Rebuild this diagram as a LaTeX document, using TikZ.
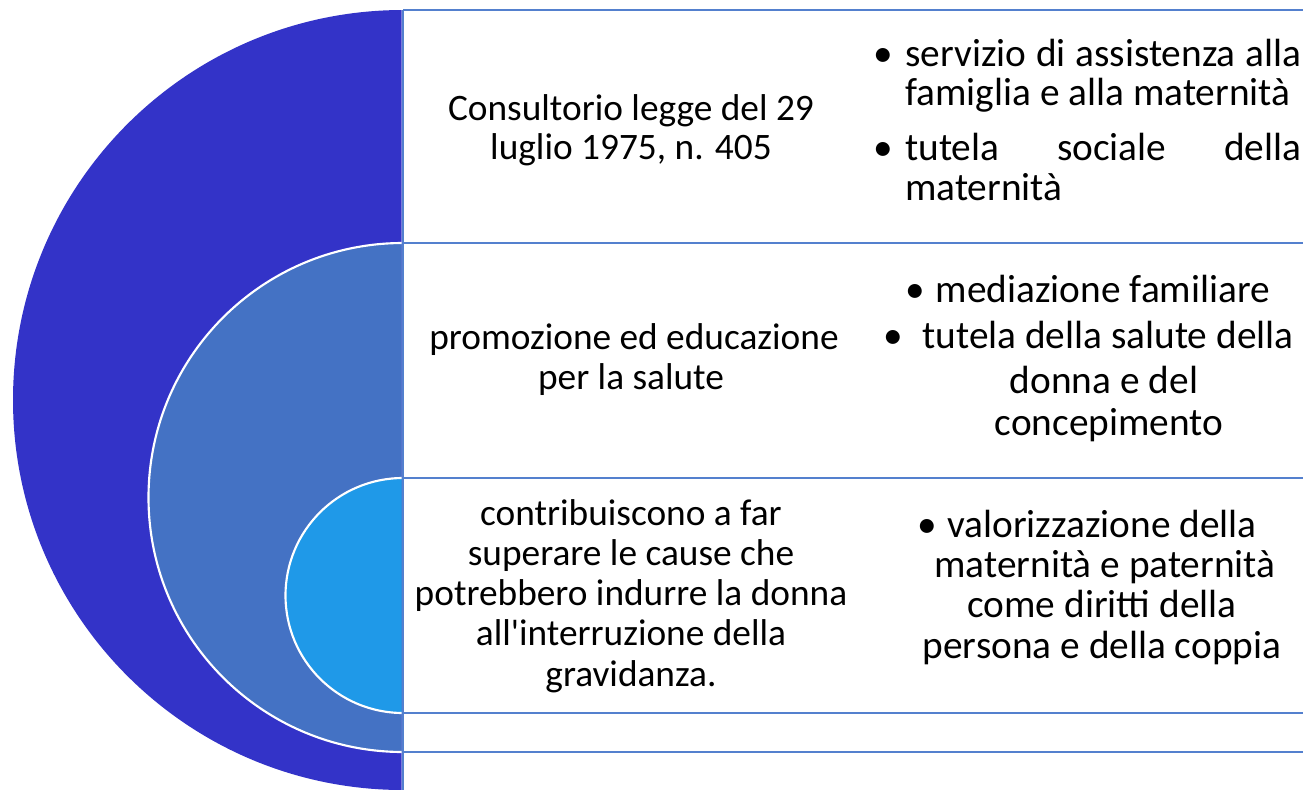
\documentclass[tikz,border=0pt]{standalone}
\usepackage{fontspec}
\setmainfont{Carlito}
\definecolor{bigc}{RGB}{51,51,200}
\definecolor{midc}{RGB}{68,114,196}
\definecolor{smallc}{RGB}{31,153,232}
\definecolor{framec}{RGB}{84,128,206}
\begin{document}
\begin{tikzpicture}[x=0.75pt,y=-0.75pt,
  txt/.style={inner sep=0pt, anchor=base, font=\fontsize{28}{34}\selectfont},
  rtxt/.style={inner sep=0pt, anchor=base, font=\fontsize{29.5}{36}\selectfont},
  rtxtw/.style={rtxt, anchor=base west},
  disc/.style={draw=white, line width=1.6pt},
  frameline/.style={draw=framec, line width=1.9pt}]
\useasboundingbox (0,0) rectangle (1303,789);
\begin{scope}
  \clip (0,0) rectangle (401.5,789);
  \fill[bigc] (403,400) circle[radius=390];
  \filldraw[disc, fill=midc] (403,497.5) circle[radius=254.5];
  \filldraw[disc, fill=smallc] (403,595.5) circle[radius=117.5];
\end{scope}
\begin{scope}
  \clip (0,0) rectangle (1303,789);
  \coordinate (vt) at (403,10);
  \coordinate (vb) at (403,800);
  \draw[frameline] (vt) -- (vb);
  \foreach \yy in {10,243,478,713,752}{
    \draw[frameline] (403,\yy) -- (1310,\yy);
  }
\end{scope}
% row 1
\node[txt] (a1) at (631,120) {Consultorio legge del 29};
\node[txt] (a2) at (631,159) {luglio 1975, n. 405};
\node[rtxtw] (b1) at (873,66) {\textbullet};
\node[rtxtw] (b2) at (905,66) {\hbox to 297pt{servizio\hfill di\hfill assistenza\hfill alla}};
\node[rtxtw] (b3) at (905,105) {famiglia e alla maternità};
\node[rtxtw] (b4) at (873,160) {\textbullet};
\node[rtxtw] (b5) at (905,160) {\hbox to 297pt{tutela\hfill sociale\hfill della}};
\node[rtxtw] (b6) at (905,200) {maternità};
% row 2
\node[txt] (c1) at (634,349) {promozione ed educazione};
\node[txt] (c2) at (631,389) {per la salute};
\node[rtxtw] (d1) at (905,302) {\textbullet};
\node[rtxt] (d2) at (1103,302) {mediazione familiare};
\node[rtxtw] (d3) at (883,348) {\textbullet};
\node[rtxt] (d4) at (1108,348) {tutela della salute della};
\node[rtxt] (d5) at (1104,393) {donna e del};
\node[rtxt] (d6) at (1109,435) {concepimento};
% row 3
\node[txt] (e1) at (631,525) {contribuiscono a far};
\node[txt] (e2) at (631,565) {superare le cause che};
\node[txt] (e3) at (631,605) {potrebbero indurre la donna};
\node[txt] (e4) at (631,645) {all\textquotesingle interruzione della};
\node[txt] (e5) at (631,686) {gravidanza.};
\node[rtxtw] (f1) at (917,537) {\textbullet};
\node[rtxt] (f2) at (1102,537) {valorizzazione della};
\node[rtxt] (f3) at (1105,577) {maternità e paternità};
\node[rtxt] (f4) at (1102,617) {come diritti della};
\node[rtxt] (f5) at (1102,658) {persona e della coppia};
\end{tikzpicture}
\end{document}
